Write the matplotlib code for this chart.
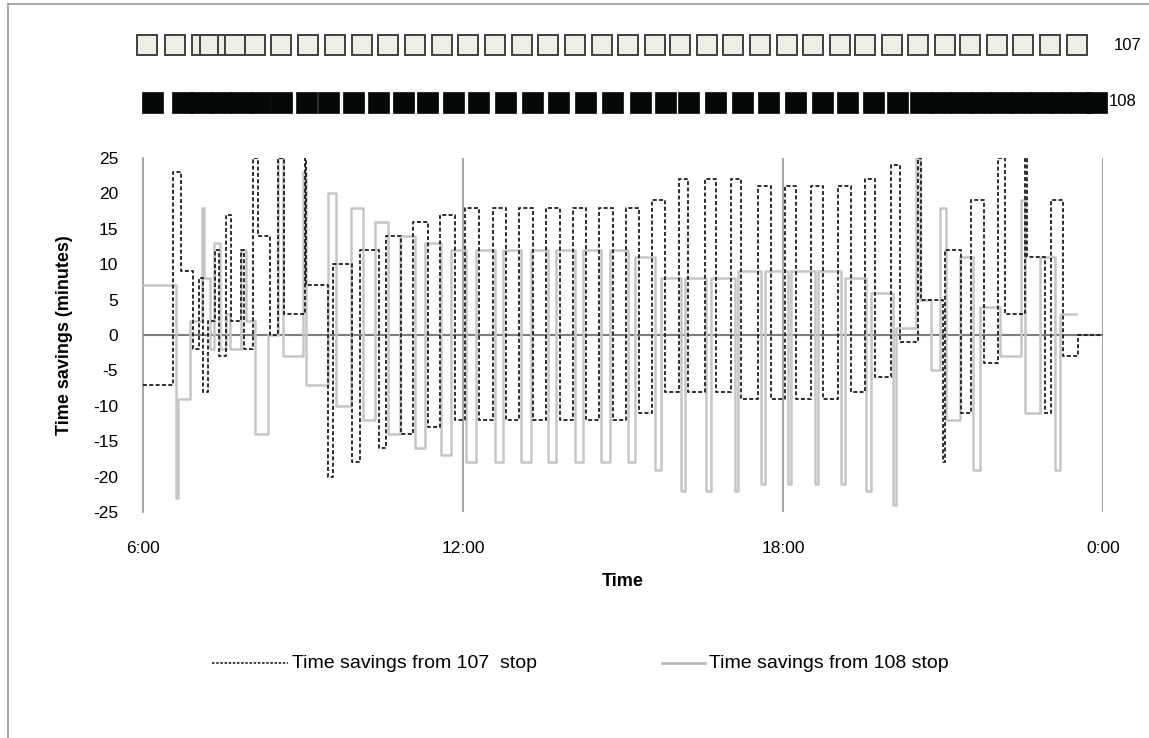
import matplotlib
matplotlib.use('Agg')
import matplotlib.pyplot as plt
from matplotlib.patches import Rectangle
from matplotlib.lines import Line2D

plt.rcParams['font.family'] = ['Liberation Sans', 'DejaVu Sans']

# ---- data (time in hours after midnight, savings in minutes) ----
# 107 stop, step values starting at each time
t107 = [6.00, 6.56, 6.71, 6.94, 7.05, 7.13, 7.22, 7.35, 7.43, 7.56, 7.65, 7.84, 7.89, 8.06,
        8.16, 8.38, 8.53, 8.64, 9.04, 9.06, 9.47, 9.56, 9.92, 10.07, 10.43, 10.56, 10.84,
        11.06, 11.34, 11.57, 11.85, 12.04, 12.30, 12.56, 12.81, 13.05, 13.31, 13.56, 13.82,
        14.06, 14.31, 14.55, 14.81, 15.06, 15.30, 15.54, 15.79, 16.05, 16.22, 16.54, 16.74,
        17.03, 17.21, 17.53, 17.78, 18.04, 18.24, 18.53, 18.75, 19.03, 19.28, 19.54, 19.73,
        20.03, 20.19, 20.53, 20.59, 21.00, 21.04, 21.34, 21.53, 21.77, 22.03, 22.16, 22.54,
        22.58, 22.91, 23.03, 23.25, 23.53, 24.00]
v107 = [-7, 23, 9, -2, 8, -8, 2, 12, -3, 17, 2, 12, -2, 25,
        14, 0, 25, 3, 25, 7, -20, 10, -18, 12, -16, 14, -14,
        16, -13, 17, -12, 18, -12, 18, -12, 18, -12, 18, -12,
        18, -12, 18, -12, 18, -11, 19, -8, 22, -8, 22, -8,
        22, -9, 21, -9, 21, -9, 21, -9, 21, -8, 22, -6,
        24, -1, 25, 5, -18, 12, -11, 19, -4, 25, 3, 25,
        11, -11, 19, -3, 0, 0]

# 108 stop
t108 = [6.00, 6.62, 6.66, 6.88, 7.11, 7.14, 7.26, 7.33, 7.44, 7.56, 7.63, 7.84, 7.93, 8.10,
        8.34, 8.53, 8.63, 9.00, 9.06, 9.47, 9.62, 9.90, 10.13, 10.35, 10.59, 10.82, 11.10,
        11.29, 11.59, 11.78, 12.06, 12.24, 12.60, 12.75, 13.09, 13.28, 13.59, 13.74, 14.10,
        14.25, 14.59, 14.76, 15.09, 15.23, 15.60, 15.71, 16.09, 16.16, 16.56, 16.65, 17.10,
        17.16, 17.59, 17.66, 18.09, 18.15, 18.60, 18.66, 19.09, 19.16, 19.56, 19.65, 20.06,
        20.12, 20.49, 20.57, 20.78, 20.94, 21.06, 21.32, 21.56, 21.69, 22.07, 22.46, 22.54,
        22.82, 23.10, 23.19, 23.49]
v108 = [7, -23, -9, 2, 18, 8, -2, 13, -2, 3, -2, 12, 2, -14,
        0, 25, -3, 23, -7, 20, -10, 18, -12, 16, -14, 14, -16,
        13, -17, 12, -18, 12, -18, 12, -18, 12, -18, 12, -18,
        12, -18, 12, -18, 11, -19, 8, -22, 8, -22, 8, -22,
        9, -21, 9, -21, 9, -21, 9, -21, 8, -22, 6, -24,
        1, 25, 5, -5, 18, -12, 11, -19, 4, -3, 19, -11,
        11, -19, 3, 3]

# bus occupancy bars at the top (start time, fixed duration)
box107 = [5.89, 6.41, 6.92, 7.07, 7.41, 7.54, 7.91, 8.40, 8.91, 9.41, 9.92, 10.41, 10.91,
          11.42, 11.91, 12.41, 12.92, 13.41, 13.91, 14.42, 14.91, 15.41, 15.88, 16.39,
          16.88, 17.38, 17.89, 18.38, 18.88, 19.35, 19.86, 20.34, 20.85, 21.32, 21.83,
          22.31, 22.82, 23.33]
box108 = [5.98, 6.54, 6.88, 7.26, 7.63, 8.01, 8.40, 8.87, 9.28, 9.75, 10.22, 10.69, 11.14,
          11.63, 12.09, 12.60, 13.11, 13.59, 14.10, 14.61, 15.13, 15.60, 16.03, 16.54,
          17.04, 17.53, 18.04, 18.54, 19.01, 19.50, 19.95, 20.38, 20.76, 21.13, 21.51,
          21.88, 22.26, 22.63, 23.01, 23.38, 23.68]
dur107 = 0.375
dur108 = 0.39

xticks = [6, 12, 18, 24]
xticklabels = ['6:00', '12:00', '18:00', '0:00']
yticks = list(range(-25, 26, 5))

W, H = 1149, 738
fig = plt.figure(figsize=(W / 100, H / 100), dpi=100)
L = 143 / W
R = 1103 / W

# main plot
ax = fig.add_axes([L, (H - 512) / H, R - L, 354 / H])
ax.step(t108, v108, where='post', color='#c6c6c6', lw=1.8, zorder=3)
ax.step(t107, v107, where='post', color='#1e1e1e', lw=1.3, ls=(0, (2.2, 1.3)), zorder=4)
ax.axhline(0, color='#7f7f7f', lw=1.5, zorder=2)
for h in xticks[1:]:
    ax.axvline(h, color='#8c8c8c', lw=1.1, zorder=1)

ax.set_xlim(6, 24)
ax.set_ylim(-25, 25)
for s in ['top', 'right', 'bottom']:
    ax.spines[s].set_visible(False)
ax.spines['left'].set_color('#8c8c8c')
ax.spines['left'].set_linewidth(1.1)

ax.set_yticks(yticks)
ax.set_yticklabels([str(v) for v in yticks])
ax.set_xticks(xticks)
ax.set_xticklabels(xticklabels)
ax.tick_params(axis='both', length=0, labelsize=12.5)
ax.tick_params(axis='y', pad=18)
ax.tick_params(axis='x', pad=21)
ax.set_xlabel('Time', fontweight='bold', fontsize=13, labelpad=12)
ax.set_ylabel('Time savings (minutes)', fontweight='bold', fontsize=13, labelpad=14)

# top bars
axt = fig.add_axes([L, (H - 118) / H, R - L, 90 / H])
axt.set_xlim(6, 24)
axt.set_ylim(118, 28)
axt.axis('off')
for b in box107:
    axt.add_patch(Rectangle((b, 35), dur107, 20, facecolor='#eeeee2', edgecolor='#404040',
                            lw=1.4, clip_on=False))
for b in box108:
    axt.add_patch(Rectangle((b, 92), dur108, 21, facecolor='#050808', edgecolor='#050808',
                            lw=0.5, clip_on=False))
fig.text(1114 / W, 1 - 45 / H, '107', va='center', ha='left', fontsize=12)
fig.text(1109 / W, 1 - 102 / H, '108', va='center', ha='left', fontsize=12)

# legend
ly = 1 - 663 / H
fig.add_artist(Line2D([212 / W, 288 / W], [ly, ly], color='#222222', lw=1.2, ls=(0, (1.5, 1))))
fig.text(292 / W, ly, 'Time savings from 107  stop', va='center', ha='left', fontsize=14)
fig.add_artist(Line2D([662 / W, 705 / W], [ly, ly], color='#b4b4b4', lw=1.8))
fig.text(709 / W, ly, 'Time savings from 108 stop', va='center', ha='left', fontsize=14)

# outer frame
fig.add_artist(Line2D([8 / W, 8 / W], [0, 1 - 4 / H], color='#9a9a9a', lw=1.2))
fig.add_artist(Line2D([8 / W, 1], [1 - 4 / H, 1 - 4 / H], color='#9a9a9a', lw=1.2))

fig.savefig('out.png', dpi=100)
